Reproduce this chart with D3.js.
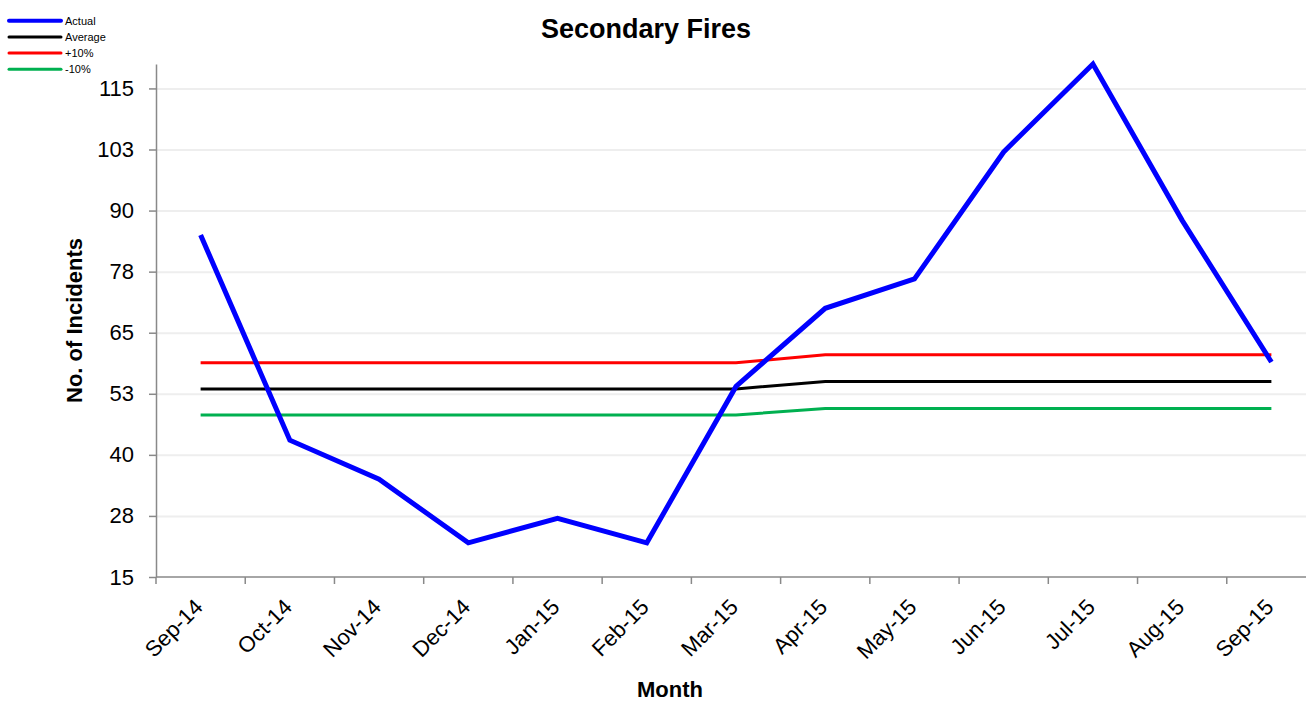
<!DOCTYPE html>
<html>
  <head>
    <meta charset="utf-8">
    <script src="https://cdnjs.cloudflare.com/ajax/libs/d3/7.8.5/d3.min.js"></script>
    <style>
      body { margin: 0; background: #fff; }
      svg { font-family: Arial, "Liberation Sans", sans-serif; }
      .axis path, .axis line { stroke: #898989; stroke-width: 1.5; }
      .axis text { fill: #000; font-size: 22px; }
      .gridline line { stroke: #eeeeee; stroke-width: 2; }
      .gridline path { display: none; }
    </style>
  </head>
  <body>
    <script>
      var months = ["Sep-14", "Oct-14", "Nov-14", "Dec-14", "Jan-15", "Feb-15", "Mar-15",
                    "Apr-15", "May-15", "Jun-15", "Jul-15", "Aug-15", "Sep-15"];
      var actual  = [85, 43, 35, 22, 27, 22, 54, 70, 76, 102, 120, 88, 59];
      var average = [53.5, 53.5, 53.5, 53.5, 53.5, 53.5, 53.5, 55, 55, 55, 55, 55, 55];
      var plus10  = [58.85, 58.85, 58.85, 58.85, 58.85, 58.85, 58.85, 60.5, 60.5, 60.5, 60.5, 60.5, 60.5];
      var minus10 = [48.15, 48.15, 48.15, 48.15, 48.15, 48.15, 48.15, 49.5, 49.5, 49.5, 49.5, 49.5, 49.5];
      var yTicks = [15, 27.5, 40, 52.5, 65, 77.5, 90, 102.5, 115];

      var series = [
        {name: "Actual", values: actual, color: "#0000ff", width: 5, legendWidth: 4},
        {name: "Average", values: average, color: "#000000", width: 3, legendWidth: 3},
        {name: "+10%", values: plus10, color: "#ff0000", width: 3, legendWidth: 3},
        {name: "-10%", values: minus10, color: "#00b050", width: 3, legendWidth: 3}
      ];

      var width = 1306, height = 702;
      var plotLeft = 156, plotRight = 1316, plotTop = 64, plotBottom = 577;

      var svg = d3.select("body").append("svg")
          .attr("width", width)
          .attr("height", height);

      var x = d3.scaleBand().domain(months).range([plotLeft, plotRight]);
      var y = d3.scaleLinear().domain([15, 120]).range([plotBottom, plotTop]);

      // gridlines
      svg.append("g")
          .attr("class", "gridline")
          .attr("transform", "translate(" + plotLeft + ",0)")
          .call(d3.axisLeft(y).tickValues(yTicks.slice(1)).tickSize(-(plotRight - plotLeft)).tickFormat(""));

      // y axis
      svg.append("g")
          .attr("class", "axis")
          .attr("transform", "translate(" + plotLeft + ",0)")
          .call(d3.axisLeft(y).tickValues(yTicks).tickSize(7).tickSizeOuter(0).tickPadding(15)
                .tickFormat(d3.format(".0f")));

      // x axis (ticks on band edges)
      var xAxisG = svg.append("g")
          .attr("class", "axis")
          .attr("transform", "translate(0," + plotBottom + ")");
      xAxisG.append("line")
          .attr("x1", plotLeft).attr("x2", plotRight)
          .attr("y1", 0).attr("y2", 0);
      xAxisG.selectAll(".tk")
          .data(months)
          .enter().append("line")
          .attr("x1", function(d) { return x(d); })
          .attr("x2", function(d) { return x(d); })
          .attr("y1", 0).attr("y2", 7);
      xAxisG.selectAll(".lbl")
          .data(months)
          .enter().append("text")
          .attr("text-anchor", "end")
          .attr("transform", function(d) {
            var cx = x(d) + x.bandwidth() / 2 - 2;
            return "translate(" + cx + ",26) rotate(-45)";
          })
          .attr("dy", "0.35em")
          .text(function(d) { return d; });

      // lines
      var line = d3.line()
          .x(function(d, i) { return x(months[i]) + x.bandwidth() / 2; })
          .y(function(d) { return y(d); });

      series.slice().reverse().forEach(function(s) {
        svg.append("path")
            .datum(s.values)
            .attr("fill", "none")
            .attr("stroke", s.color)
            .attr("stroke-width", s.width)
            .attr("d", line);
      });

      // titles
      svg.append("text")
          .attr("x", 646).attr("y", 38)
          .attr("text-anchor", "middle")
          .style("font-size", "27px")
          .style("font-weight", "bold")
          .text("Secondary Fires");

      svg.append("text")
          .attr("transform", "translate(82," + ((plotTop + plotBottom) / 2) + ") rotate(-90)")
          .attr("text-anchor", "middle")
          .style("font-size", "22px")
          .style("font-weight", "bold")
          .text("No. of Incidents");

      svg.append("text")
          .attr("x", 670).attr("y", 697)
          .attr("text-anchor", "middle")
          .style("font-size", "22px")
          .style("font-weight", "bold")
          .text("Month");

      // legend
      var legend = svg.append("g").attr("transform", "translate(8,20.7)");
      var item = legend.selectAll("g")
          .data(series)
          .enter().append("g")
          .attr("transform", function(d, i) { return "translate(0," + (i * 16.2) + ")"; });
      item.append("line")
          .attr("x1", 1).attr("x2", 53)
          .attr("y1", 0).attr("y2", 0)
          .attr("stroke", function(d) { return d.color; })
          .attr("stroke-width", function(d) { return d.legendWidth; })
          .attr("stroke-linecap", "round");
      item.append("text")
          .attr("x", 57).attr("y", 0)
          .attr("dy", "0.35em")
          .style("font-size", "11px")
          .text(function(d) { return d.name; });
    </script>
  </body>
</html>
